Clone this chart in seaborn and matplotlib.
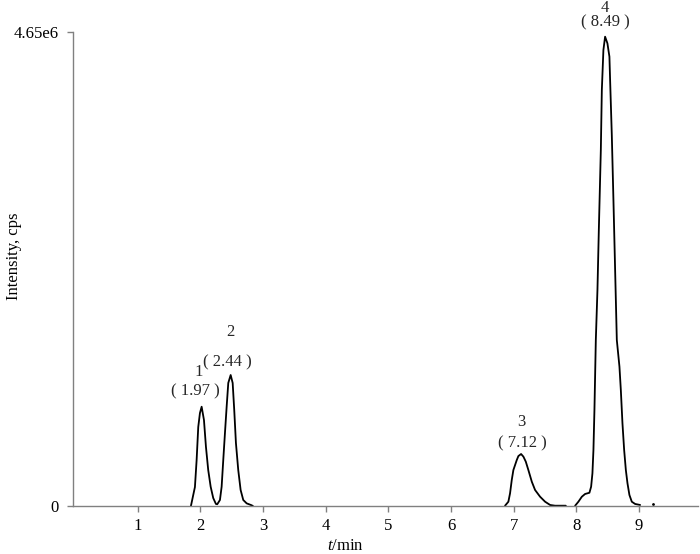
import numpy as np
import pandas as pd
import matplotlib
matplotlib.use("Agg")
import matplotlib.pyplot as plt
import seaborn as sns

# trace (time in min, intensity in 1e6 cps)
t_12 = [1.851, 1.915, 1.942, 1.968, 1.995, 2.022, 2.059, 2.091, 2.127, 2.166, 2.207, 2.250,
        2.271, 2.314, 2.341, 2.367, 2.394, 2.421, 2.447, 2.485, 2.517, 2.542, 2.569, 2.606,
        2.644, 2.686, 2.740, 2.820, 2.840]
i_12 = [0.0, 0.186, 0.451, 0.775, 0.912, 0.974, 0.844, 0.579, 0.353, 0.189, 0.078, 0.020,
        0.017, 0.059, 0.189, 0.451, 0.716, 0.974, 1.207, 1.285, 1.207, 0.942, 0.618, 0.353,
        0.157, 0.059, 0.026, 0.007, 0.0]

t_3 = [6.862, 6.915, 6.942, 6.969, 6.995, 7.022, 7.049, 7.075, 7.118, 7.155, 7.193, 7.234,
       7.289, 7.341, 7.421, 7.501, 7.581, 7.660, 7.831]
i_3 = [0.003, 0.042, 0.125, 0.255, 0.353, 0.402, 0.451, 0.490, 0.510, 0.484, 0.435, 0.353,
       0.238, 0.157, 0.091, 0.042, 0.010, 0.003, 0.003]

t_4 = [7.980, 8.032, 8.087, 8.139, 8.208, 8.235, 8.256, 8.272, 8.288, 8.310, 8.336, 8.358,
       8.390, 8.406, 8.431, 8.458, 8.495, 8.527, 8.538, 8.565, 8.591, 8.618, 8.645, 8.687,
       8.709, 8.735, 8.762, 8.789, 8.815, 8.846, 8.884, 8.937, 9.017]
i_4 = [0.003, 0.042, 0.091, 0.118, 0.130, 0.189, 0.321, 0.549, 0.942, 1.628, 2.119, 2.708,
       3.492, 4.081, 4.473, 4.604, 4.539, 4.408, 4.179, 3.639, 3.002, 2.315, 1.628, 1.367,
       1.138, 0.811, 0.549, 0.353, 0.223, 0.108, 0.042, 0.020, 0.010]

dot_t = [9.219]
dot_i = [0.02]

peak_no = ["1", "2", "3", "4"]
peak_rt = ["1.97", "2.44", "7.12", "8.49"]
peak_x = [2.022, 2.485, 7.118, 8.458]
peak_y = [0.974, 1.285, 0.510, 4.604]
# label offsets from peak top (pixels): number, retention time
off_num = [35, 43, 32, 29]
off_rt = [15, 13, 11, 14]
dx_num = [-3, 0, 0, 0]
dx_rt = [-6, -3, 1, 0]

df = pd.concat([
    pd.DataFrame({"t": t_12, "I": i_12, "seg": 0}),
    pd.DataFrame({"t": t_3, "I": i_3, "seg": 1}),
    pd.DataFrame({"t": t_4, "I": i_4, "seg": 2}),
])
df["I"] = df["I"] * 1e6

sns.set_theme(style="white")
plt.rcParams["font.family"] = ["Liberation Serif", "Noto Sans CJK SC"]
plt.rcParams["mathtext.fontset"] = "custom"
plt.rcParams["mathtext.it"] = "Liberation Serif:italic"
plt.rcParams["mathtext.rm"] = "Liberation Serif"

fig = plt.figure(figsize=(7.0, 5.54), dpi=100)
ax = fig.add_axes([73 / 700, 48 / 554, 625 / 700, 474 / 554])

sns.lineplot(data=df, x="t", y="I", units="seg", estimator=None, color="black",
             linewidth=1.3, ax=ax, sort=False)
ax.plot(dot_t, np.array(dot_i) * 1e6, ".", color="black", markersize=2)

ax.set_xlim(-0.03, 9.94)
ax.set_ylim(0, 4.65e6)
ax.set_xticks(range(1, 10))
ax.set_yticks([0, 4.65e6])
ax.set_yticklabels(["0", "4.65e6"])

for s in ["top", "right"]:
    ax.spines[s].set_visible(False)
for s in ["left", "bottom"]:
    ax.spines[s].set_color("#808080")
    ax.spines[s].set_linewidth(1.0)
ax.tick_params(axis="both", direction="out", length=4, width=1, color="#808080",
               labelsize=12, labelcolor="black", left=True, bottom=True)
ax.tick_params(axis="x", pad=5)
ax.tick_params(axis="y", pad=6)

ax.set_xlabel("$t$/min", fontsize=12, color="black")
ax.set_ylabel("Intensity, cps", fontsize=12, color="black")
ax.xaxis.set_label_coords(272 / 625, -0.068)
ax.yaxis.set_label_coords(-0.082, 0.527)

for k in range(4):
    ax.annotate(peak_no[k], (peak_x[k], peak_y[k] * 1e6), xytext=(dx_num[k] * 0.72, off_num[k] * 0.72),
                textcoords="offset points", ha="center", va="center", fontsize=12)
    ax.annotate("( " + peak_rt[k] + " )", (peak_x[k], peak_y[k] * 1e6),
                xytext=(dx_rt[k] * 0.72, off_rt[k] * 0.72),
                textcoords="offset points", ha="center", va="center", fontsize=12)

fig.savefig("out.png", dpi=100)
